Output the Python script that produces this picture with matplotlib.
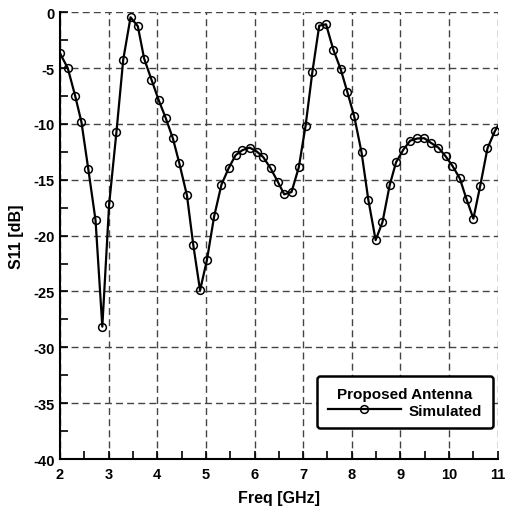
import matplotlib
matplotlib.use('Agg')
import matplotlib.pyplot as plt
from matplotlib.ticker import MultipleLocator

# S11 (last value is where the curve meets 11 GHz, no marker)
freq = [2.00, 2.16, 2.31, 2.44, 2.58, 2.73, 2.87, 3.01, 3.16, 3.30,
        3.45, 3.60, 3.73, 3.88, 4.03, 4.17, 4.32, 4.45, 4.61, 4.74,
        4.88, 5.02, 5.17, 5.32, 5.47, 5.61, 5.75, 5.90, 6.05, 6.18,
        6.33, 6.48, 6.61, 6.76, 6.91, 7.05, 7.19, 7.33, 7.47, 7.62,
        7.77, 7.91, 8.05, 8.20, 8.34, 8.49, 8.63, 8.78, 8.91, 9.06,
        9.20, 9.35, 9.49, 9.63, 9.78, 9.93, 10.07, 10.22, 10.36, 10.50,
        10.64, 10.79, 10.94, 11.00]
s11 = [-3.67, -5.01, -7.46, -9.82, -14.0, -18.6, -28.15, -17.2, -10.74, -4.24,
       -0.45, -1.25, -4.15, -6.03, -7.88, -9.43, -11.28, -13.46, -16.39, -20.83,
       -24.9, -22.2, -18.26, -15.43, -13.94, -12.8, -12.35, -12.12, -12.48, -12.98,
       -13.97, -15.19, -16.3, -16.1, -13.88, -10.15, -5.32, -1.2, -1.08, -3.35,
       -5.08, -7.17, -9.32, -12.54, -16.8, -20.4, -18.8, -15.46, -13.43, -12.3,
       -11.5, -11.3, -11.28, -11.7, -12.12, -12.9, -13.76, -14.87, -16.75, -18.48,
       -15.55, -12.18, -10.66, -10.2]

plt.rcParams['font.family'] = ['Liberation Sans', 'DejaVu Sans']
plt.rcParams['font.weight'] = 'bold'
plt.rcParams['axes.unicode_minus'] = False

fig = plt.figure(figsize=(5.06, 5.10), dpi=100)
ax = fig.add_axes([0.1186, 0.098, 0.865, 0.876])

ax.plot(freq, s11, color='black', lw=1.6, marker='o', ms=5.6,
        mfc='none', mec='black', mew=1.1, markevery=list(range(len(freq) - 1)),
        label='Simulated')

ax.set_xlim(2, 11)
ax.set_ylim(-40, 0)
ax.xaxis.set_major_locator(MultipleLocator(1))
ax.xaxis.set_minor_locator(MultipleLocator(0.5))
ax.yaxis.set_major_locator(MultipleLocator(5))
ax.yaxis.set_minor_locator(MultipleLocator(2.5))
ax.tick_params(which='both', direction='in', length=6, width=1.2,
               top=False, right=False, labelsize=10.5)
ax.tick_params(axis='x', pad=6)
ax.tick_params(axis='y', pad=4)
for lab in ax.get_xticklabels() + ax.get_yticklabels():
    lab.set_fontweight('bold')

ax.grid(True, which='major', color='#444444', linestyle=(0, (5, 3)), lw=1.0)
ax.spines['top'].set_visible(False)
ax.spines['right'].set_visible(False)
ax.spines['left'].set_linewidth(1.5)
ax.spines['bottom'].set_linewidth(1.5)

ax.set_xlabel('Freq [GHz]', fontsize=11.5, fontweight='bold')
ax.set_ylabel('S11 [dB]', fontsize=11.5, fontweight='bold')
ax.xaxis.set_label_coords(0.5, -0.07)
ax.yaxis.set_label_coords(-0.082, 0.5)

leg = ax.legend(loc='lower right', bbox_to_anchor=(0.9886, 0.0687),
                borderaxespad=0, title='Proposed Antenna', fancybox=True,
                framealpha=1, edgecolor='black',
                prop={'weight': 'bold', 'size': 11},
                handlelength=4.8, borderpad=0.7, handletextpad=0.5,
                labelspacing=0.2)
leg.get_title().set_fontweight('bold')
leg.get_title().set_fontsize(11)
leg.get_frame().set_linewidth(1.8)

plt.savefig('out.png', dpi=100)
